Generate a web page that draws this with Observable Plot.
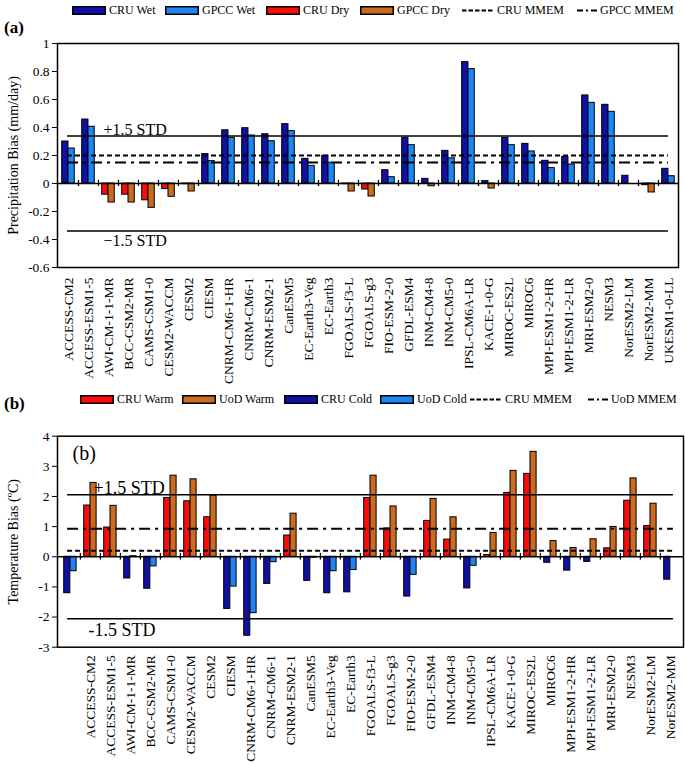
<!DOCTYPE html>
<html><head><meta charset="utf-8">
<script src="https://cdn.jsdelivr.net/npm/d3@7"></script>
<script src="https://cdn.jsdelivr.net/npm/@observablehq/plot@0.6"></script>
<style>
body{margin:0;background:#fff;}
#wrap{position:relative;width:685px;height:764px;overflow:hidden;color:#000;background:#fff}
#wrap, #wrap div, #wrap span, #wrap svg, #wrap svg text{font-family:"Liberation Serif","Times New Roman",serif !important}
#wrap g[aria-label="y-axis tick label"]{font-size:13.5px}
.panel{position:absolute;left:0}
.leg{position:absolute;display:flex;align-items:center;font-size:12px;white-space:nowrap;line-height:1}
.leg svg{margin-right:3px;display:block}
.tag{position:absolute;font-weight:bold;font-size:17px;line-height:1}
</style></head><body><div id="wrap"></div>
<script>
// ---------- data ----------
const modelsA = ["ACCESS-CM2","ACCESS-ESM1-5","AWI-CM-1-1-MR","BCC-CSM2-MR","CAMS-CSM1-0","CESM2-WACCM","CESM2","CIESM","CNRM-CM6-1-HR","CNRM-CM6-1","CNRM-ESM2-1","CanESM5","EC-Earth3-Veg","EC-Earth3","FGOALS-f3-L","FGOALS-g3","FIO-ESM-2-0","GFDL-ESM4","INM-CM4-8","INM-CM5-0","IPSL-CM6A-LR","KACE-1-0-G","MIROC-ES2L","MIROC6","MPI-ESM1-2-HR","MPI-ESM1-2-LR","MRI-ESM2-0","NESM3","NorESM2-LM","NorESM2-MM","UKESM1-0-LL"];
const cruPrecip  = [0.30,0.457,-0.08,-0.08,-0.12,-0.04,-0.005,0.21,0.38,0.395,0.352,0.424,0.176,0.198,-0.005,-0.043,0.095,0.326,0.033,0.233,0.867,0.017,0.326,0.283,0.162,0.19,0.629,0.562,0.055,-0.012,0.105];
const gpccPrecip = [0.25,0.405,-0.136,-0.136,-0.174,-0.095,-0.057,0.16,0.326,0.343,0.302,0.374,0.126,0.148,-0.057,-0.093,0.045,0.274,-0.02,0.18,0.817,-0.036,0.274,0.229,0.11,0.136,0.576,0.512,0,-0.064,0.052];
const precipStd = 0.34, precipCruMmem = 0.20, precipGpccMmem = 0.15;
const precipTicks = [-0.6,-0.4,-0.2,0,0.2,0.4,0.6,0.8,1];

const tempModels = ["ACCESS-CM2","ACCESS-ESM1-5","AWI-CM-1-1-MR","BCC-CSM2-MR","CAMS-CSM1-0","CESM2-WACCM","CESM2","CIESM","CNRM-CM6-1-HR","CNRM-CM6-1","CNRM-ESM2-1","CanESM5","EC-Earth3-Veg","EC-Earth3","FGOALS-f3-L","FGOALS-g3","FIO-ESM-2-0","GFDL-ESM4","INM-CM4-8","INM-CM5-0","IPSL-CM6A-LR","KACE-1-0-G","MIROC-ES2L","MIROC6","MPI-ESM1-2-HR","MPI-ESM1-2-LR","MRI-ESM2-0","NESM3","NorESM2-LM","NorESM2-MM"];
// first bar group in the original panel (b) carries no label
const tempGroups = ["", ...tempModels];
const cruTemp = [-1.21,1.70,0.97,-0.72,-1.06,1.95,1.84,1.31,-1.73,-2.62,-0.90,0.705,-0.80,-1.21,-1.18,1.95,0.94,-1.32,1.19,0.57,-1.05,0.06,2.12,2.75,-0.20,-0.46,-0.17,0.28,1.86,1.02,-0.76];
const uodTemp = [-0.48,2.45,1.69,0.02,-0.32,2.69,2.57,2.03,-0.99,-1.87,-0.18,1.43,-0.03,-0.48,-0.44,2.69,1.67,-0.60,1.92,1.31,-0.30,0.79,2.85,3.48,0.52,0.29,0.58,0.99,2.60,1.76,0];
const tempStd = 2.06, tempCruMmem = 0.20, tempUodMmem = 0.93;
const tempTicks = [-3,-2,-1,0,1,2,3,4];

// ---------- style ----------
const COL = {darkBlue:"#1010A6", lightBlue:"#1E86F2", red:"#FF0A0A", orange:"#CC6A1E"};
const serif = '"Liberation Serif","Times New Roman",serif';
const fmt = d => String(+d.toFixed(1));
const wrap = document.getElementById("wrap");

function panel(o){
  const bw = (685 - o.marginLeft - o.marginRight) / o.groups.length;
  const rows = o.groups.map((g,i)=>({g, a:o.a[i], b:o.b[i]}));
  const half = bw/2;
  return Plot.plot({
    width:685, height:o.height, marginTop:o.marginTop, marginBottom:o.marginBottom,
    marginLeft:o.marginLeft, marginRight:o.marginRight,
    style:{fontFamily:serif, fontSize:"13.5px", background:"transparent", color:"black", overflow:"visible"},
    x:{domain:o.groups, padding:0, axis:null},
    y:{domain:o.yDomain, ticks:o.yTicks, tickFormat:fmt, tickSize:5, tickPadding:3, label:null},
    marks:[
      Plot.barY(rows,{x:"g", y:"a", fill:d=>d.a>=0?o.aPos:o.aNeg, stroke:"black", strokeWidth:1, insetLeft:3.7, insetRight:bw-10}),
      Plot.barY(rows,{x:"g", y:"b", fill:d=>d.b>=0?o.bPos:o.bNeg, stroke:"black", strokeWidth:1, insetLeft:10, insetRight:bw-16.3}),
      Plot.ruleY([0],{stroke:"black", strokeWidth:1.5}),
      Plot.ruleX(o.groups.slice(1),{x:d=>d, y1:()=>-o.tick, y2:()=>o.tick, dx:-half, stroke:"black", strokeWidth:1.3}),
      Plot.ruleY([o.std,-o.std],{y:d=>d, insetLeft:half, insetRight:half, stroke:"black", strokeWidth:1.5}),
      Plot.ruleY([o.mmemA],{y:d=>d, insetLeft:half, insetRight:half, stroke:"black", strokeWidth:2, strokeDasharray:"5,3"}),
      Plot.ruleY([o.mmemB],{y:d=>d, insetLeft:half, insetRight:half, stroke:"black", strokeWidth:2, strokeDasharray:"11,5,3,5"}),
      Plot.text([o.stdUp],{frameAnchor:"left", y:()=>o.std, dx:o.stdDx, dy:-1, textAnchor:"start", lineAnchor:"bottom", fontSize:o.stdSize}),
      Plot.text([o.stdDown],{frameAnchor:"left", y:()=>-o.std, dx:o.stdDx2, dy:4, textAnchor:"start", lineAnchor:"top", fontSize:o.stdSize}),
      Plot.text(o.groups,{x:d=>d, text:d=>d, frameAnchor:"bottom", rotate:-90, textAnchor:"end", lineAnchor:"middle", dy:o.labelDy, fontSize:13.5}),
      Plot.text([o.yTitle],{frameAnchor:"left", rotate:-90, dx:-44, textAnchor:"middle", lineAnchor:"middle", fontSize:14}),
      ...(o.extra || []),
      Plot.frame({stroke:"black", strokeWidth:1.5})
    ]
  });
}

const svgA = panel({
  groups:modelsA, a:cruPrecip, b:gpccPrecip,
  aPos:COL.darkBlue, aNeg:COL.red, bPos:COL.lightBlue, bNeg:COL.orange,
  height:380, marginTop:43, marginBottom:113, marginLeft:57, marginRight:7,
  yDomain:[-0.6,1], yTicks:precipTicks, tick:0.022,
  std:precipStd, mmemA:precipCruMmem, mmemB:precipGpccMmem,
  stdUp:"+1.5 STD", stdDown:"\u22121.5 STD", stdDx:46, stdDx2:46, stdSize:16, labelDy:10,
  yTitle:"Precipitation Bias (mm/day)"
});
svgA.classList.add("panel"); svgA.style.top = "0px";
wrap.appendChild(svgA);

const svgB = panel({
  groups:tempGroups, a:cruTemp, b:uodTemp,
  aPos:COL.red, aNeg:COL.darkBlue, bPos:COL.orange, bNeg:COL.lightBlue,
  height:384, marginTop:55.7, marginBottom:117.3, marginLeft:57, marginRight:2,
  yDomain:[-3,4], yTicks:tempTicks, tick:0.11,
  std:tempStd, mmemA:tempCruMmem, mmemB:tempUodMmem,
  stdUp:"+1.5 STD", stdDown:"-1.5 STD", stdDx:36, stdDx2:31, stdSize:18, labelDy:8,
  yTitle:"Temperature Bias (\u00baC)",
  extra:[Plot.text(["(b)"],{frameAnchor:"top-left", dx:15, dy:10, textAnchor:"start", lineAnchor:"top", fontSize:20})]
});
svgB.classList.add("panel"); svgB.style.top = "380px";
wrap.appendChild(svgB);

// ---------- legends ----------
function swatch(item){
  if (item.type === "rect")
    return `<svg width="34" height="9"><rect x="0.75" y="0.75" width="32.5" height="7.5" fill="${item.color}" stroke="black" stroke-width="1.5"/></svg>`;
  if (item.type === "dash")
    return `<svg width="32" height="9"><line x1="0" x2="32" y1="4.5" y2="4.5" stroke="black" stroke-width="2.2" stroke-dasharray="4.5,2"/></svg>`;
  return `<svg width="20" height="9"><line x1="0" x2="20" y1="4.5" y2="4.5" stroke="black" stroke-width="2.2" stroke-dasharray="6,3,2,3,6"/></svg>`;
}
function legend(items, top){
  for (const it of items){
    const d = document.createElement("div");
    d.className = "leg";
    d.style.left = it.left + "px";
    d.style.top = top + "px";
    d.innerHTML = swatch(it) + `<span>${it.label}</span>`;
    wrap.appendChild(d);
  }
}
legend([
  {label:"CRU Wet", type:"rect", color:COL.darkBlue, left:72},
  {label:"GPCC Wet", type:"rect", color:COL.lightBlue, left:165},
  {label:"CRU Dry", type:"rect", color:COL.red, left:266},
  {label:"GPCC Dry", type:"rect", color:COL.orange, left:360},
  {label:"CRU MMEM", type:"dash", left:462},
  {label:"GPCC MMEM", type:"dashdot", left:577}
], 4);
legend([
  {label:"CRU Warm", type:"rect", color:COL.red, left:80},
  {label:"UoD Warm", type:"rect", color:COL.orange, left:182},
  {label:"CRU Cold", type:"rect", color:COL.darkBlue, left:284},
  {label:"UoD Cold", type:"rect", color:COL.lightBlue, left:380},
  {label:"CRU MMEM", type:"dash", left:470},
  {label:"UoD MMEM", type:"dashdot", left:588}
], 393);

function tag(text, left, top){
  const d = document.createElement("div");
  d.className = "tag"; d.textContent = text;
  d.style.left = left + "px"; d.style.top = top + "px";
  wrap.appendChild(d);
}
tag("(a)", 4, 19);
tag("(b)", 4, 395);
</script></body></html>
